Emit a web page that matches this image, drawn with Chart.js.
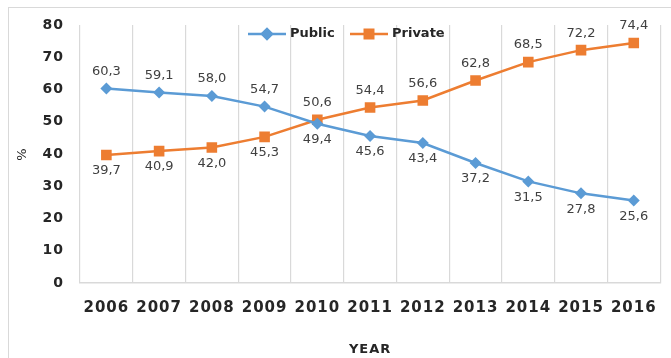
<!DOCTYPE html>
<html>
<head>
<meta charset="utf-8">
<script src="https://cdn.jsdelivr.net/npm/chart.js@4.4.1/dist/chart.umd.min.js"></script>
<style>
  body { margin: 0; background: #fff; }
  #wrap { position: relative; width: 671px; height: 358px; overflow: hidden; }
  #frame {
    position: absolute; left: 8px; top: 7px; width: 700px; height: 400px;
    border-left: 1px solid #d9d9d9; border-top: 1px solid #d9d9d9;
  }
  canvas { position: absolute; left: 0; top: 0; }
</style>
</head>
<body>
<div id="wrap">
  <div id="frame"></div>
  <canvas id="myChart" width="671" height="358"></canvas>
</div>
<script>
const years = ["2006", "2007", "2008", "2009", "2010", "2011", "2012", "2013", "2014", "2015", "2016"];
const publicShare = [60.3, 59.1, 58.0, 54.7, 49.4, 45.6, 43.4, 37.2, 31.5, 27.8, 25.6];
const privateShare = [39.7, 40.9, 42.0, 45.3, 50.6, 54.4, 56.6, 62.8, 68.5, 72.2, 74.4];
const yTicks = [0, 10, 20, 30, 40, 50, 60, 70, 80];

const blue = "#5b9bd5";
const orange = "#ed7d31";

// axis text is a bit spaced out, point labels are not
const axisSpacing = {
  id: "axisSpacing",
  beforeDraw(chart) { chart.ctx.letterSpacing = "1px"; },
  beforeDatasetsDraw(chart) { chart.ctx.letterSpacing = "0px"; }
};

// value labels: higher series gets its label above, lower one below
const valueLabels = {
  id: "valueLabels",
  afterDatasetsDraw(chart) {
    const ctx = chart.ctx;
    ctx.save();
    ctx.font = "13px 'DejaVu Sans'";
    ctx.fillStyle = "#404040";
    ctx.textAlign = "center";
    ctx.textBaseline = "middle";
    chart.data.datasets.forEach((ds, i) => {
      const other = chart.data.datasets[1 - i].data;
      chart.getDatasetMeta(i).data.forEach((pt, j) => {
        const above = ds.data[j] >= other[j];
        const txt = ds.data[j].toFixed(1).replace(".", ",");
        ctx.fillText(txt, pt.x, pt.y + (above ? -17 : 16));
      });
    });
    ctx.restore();
  }
};

// legend sits inside the plot, line with marker like the series
const innerLegend = {
  id: "innerLegend",
  afterDraw(chart) {
    const ctx = chart.ctx;
    const y = 34;
    let x = 248;
    ctx.save();
    chart.data.datasets.forEach(ds => {
      ctx.strokeStyle = ds.borderColor;
      ctx.lineWidth = 2.5;
      ctx.beginPath();
      ctx.moveTo(x, y);
      ctx.lineTo(x + 38, y);
      ctx.stroke();
      Chart.helpers.drawPoint(ctx, {
        pointStyle: ds.pointStyle,
        radius: ds.pointStyle === "rect" ? 6 : 5,
        borderWidth: 1
      }, x + 19, y);
      ctx.fillStyle = ds.borderColor;
      ctx.fill();
      ctx.font = "bold 13px 'DejaVu Sans'";
      ctx.fillStyle = "#262626";
      ctx.textAlign = "left";
      ctx.textBaseline = "middle";
      ctx.fillText(ds.label, x + 42, y);
      x += 102;
    });
    ctx.restore();
  }
};

const ctx = document.getElementById("myChart");
new Chart(ctx, {
  type: "line",
  data: {
    labels: years,
    datasets: [
      {
        label: "Public",
        data: publicShare,
        borderColor: blue,
        backgroundColor: blue,
        borderWidth: 2.5,
        pointStyle: "rectRot",
        pointRadius: 6,
        pointBorderWidth: 0,
        tension: 0
      },
      {
        label: "Private",
        data: privateShare,
        borderColor: orange,
        backgroundColor: orange,
        borderWidth: 2.5,
        pointStyle: "rect",
        pointRadius: 7.5,
        pointBorderWidth: 0,
        tension: 0
      }
    ]
  },
  options: {
    responsive: false,
    animation: false,
    layout: { padding: { left: 8, top: 25, right: 8, bottom: 0 } },
    plugins: {
      legend: { display: false },
      tooltip: { enabled: false }
    },
    scales: {
      x: {
        offset: true,
        grid: { offset: true, color: "#d9d9d9", lineWidth: 1.2, drawTicks: false },
        border: { display: true, color: "#d9d9d9", width: 1.5 },
        ticks: {
          color: "#262626",
          font: { family: "DejaVu Sans", size: 15, weight: "bold" },
          padding: 16,
          maxRotation: 0
        },
        title: {
          display: true,
          text: "YEAR",
          color: "#262626",
          font: { family: "DejaVu Sans", size: 13, weight: "bold" },
          padding: { top: 0, bottom: 1 }
        },
        afterFit: s => { s.height = 75; }
      },
      y: {
        min: 0,
        max: 80,
        afterBuildTicks: s => { s.ticks = yTicks.map(v => ({ value: v })); },
        grid: { display: false },
        border: { display: false },
        ticks: {
          color: "#262626",
          font: { family: "DejaVu Sans", size: 14, weight: "bold" },
          padding: 8
        },
        title: {
          display: true,
          text: "%",
          color: "#262626",
          font: { family: "DejaVu Sans", size: 13 },
          padding: { top: 7, bottom: 0 }
        },
        afterFit: s => { s.width = 72; }
      }
    }
  },
  plugins: [axisSpacing, valueLabels, innerLegend]
});
</script>
</body>
</html>
